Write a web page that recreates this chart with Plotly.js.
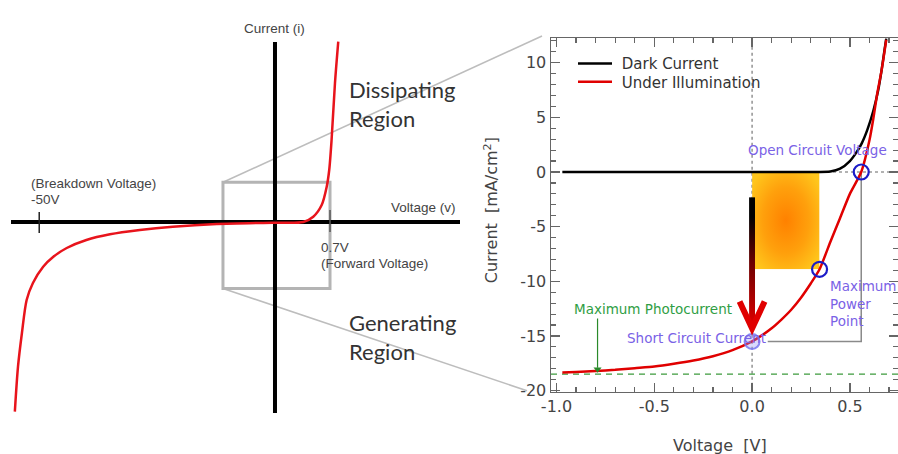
<!DOCTYPE html>
<html>
<head>
<meta charset="utf-8">
<script src="https://cdn.plot.ly/plotly-3.0.1.min.js"></script>
<style>
  html, body { margin: 0; padding: 0; background: #ffffff; }
  #chart { width: 898px; height: 454px; }
</style>
</head>
<body>
<div id="chart"></div>
<script>
// ---------- Left panel: schematic diode I-V curve (display units) ----------
const diodeV = [-3.31, -3.27, -3.22, -3.16, -3.08, -2.95, -2.82, -2.65, -2.40, -2.10, -1.72, -1.30, -0.74, -0.03, 0.36, 0.487, 0.594, 0.658, 0.69, 0.72, 0.763, 0.805];
const diodeI = [-18.97, -14.47, -11.1, -7.8, -6.1, -4.47, -3.47, -2.6, -1.8, -1.23, -0.8, -0.47, -0.2, -0.07, 0.0, 0.53, 1.7, 3.53, 5.2, 8.2, 13.87, 18.03];
const breakdownTick = -3.0;   // marks the -50 V breakdown
const forwardTick = 0.7;      // marks the 0.7 V forward voltage

// ---------- Right panel: solar cell J-V curves ----------
const darkV = [-0.97, -0.5, 0.0, 0.3, 0.4, 0.45, 0.5, 0.53, 0.56, 0.59, 0.62, 0.645, 0.662, 0.679, 0.686];
const darkI = [0, 0, 0, 0, 0.05, 0.3, 1.0, 1.7, 2.6, 3.9, 5.6, 7.5, 9.3, 11.4, 12.2];
const lightV = [-0.97, -0.9, -0.8, -0.7, -0.6, -0.5, -0.4, -0.3, -0.2, -0.1, 0.0, 0.05, 0.1, 0.15, 0.2, 0.25, 0.3, 0.345, 0.4, 0.45, 0.5, 0.558, 0.6, 0.62, 0.64, 0.662, 0.686];
const lightI = [-18.35, -18.3, -18.2, -18.1, -17.95, -17.8, -17.55, -17.25, -16.85, -16.3, -15.5, -14.95, -14.3, -13.5, -12.6, -11.5, -10.2, -8.9, -6.4, -4.2, -2.0, 0, 2.9, 4.9, 7.2, 9.3, 12.1];

const voc = 0.558;     // open circuit voltage [V]
const isc = -15.5;     // short circuit current [mA/cm2]
const vmp = 0.345;     // maximum power point voltage
const imp = -8.9;      // maximum power point current
const iph = -18.5;     // maximum photocurrent
const photoArrowV = -0.79;

const xTickVals = [-1.0, -0.5, 0.0, 0.5];
const xTickText = ['-1.0', '-0.5', '0.0', '0.5'];
const yTickVals = [-20, -15, -10, -5, 0, 5, 10];
const yTickText = ['-20', '-15', '-10', '-5', '0', '5', '10'];

// ---------- geometry ----------
const W = 898, H = 454;
const leftXDom = [0, 460 / W], leftYDom = [0, 1];
const leftXRange = [-3.499, 2.354], leftYRange = [-23.2, 22.2];
const rightXDom = [551 / W, 1], rightYDom = [62.3 / H, 416 / H];
const rightXRange = [-1.028, 0.746], rightYRange = [-20.1, 12.26];

const box = { x0: -0.662, x1: forwardTick, y0: -6.65, y1: 3.97 };

function toPaper(dom, rng, v) {
  return dom[0] + (v - rng[0]) / (rng[1] - rng[0]) * (dom[1] - dom[0]);
}
function svgUri(svg) { return 'data:image/svg+xml;base64,' + btoa(svg); }

const powerFill = svgUri(
  '<svg xmlns="http://www.w3.org/2000/svg" width="100" height="100" viewBox="0 0 100 100" preserveAspectRatio="none">' +
  '<defs><radialGradient id="g" cx="0.5" cy="0.5" r="0.62">' +
  '<stop offset="0" stop-color="#ff8100"/><stop offset="0.55" stop-color="#ffa00c"/><stop offset="1" stop-color="#ffc61c"/>' +
  '</radialGradient></defs><rect width="100" height="100" fill="url(#g)"/></svg>');

const shaftFill = svgUri(
  '<svg xmlns="http://www.w3.org/2000/svg" width="10" height="100" viewBox="0 0 10 100" preserveAspectRatio="none">' +
  '<defs><linearGradient id="s" x1="0" y1="0" x2="0" y2="1">' +
  '<stop offset="0" stop-color="#000000"/><stop offset="0.15" stop-color="#000000"/><stop offset="0.5" stop-color="#6a0000"/><stop offset="1" stop-color="#e00000"/>' +
  '</linearGradient></defs><rect width="10" height="100" fill="url(#s)"/></svg>');

const labelFont = { family: 'Liberation Sans, Arial, sans-serif', size: 13.5, color: '#444444' };
const regionFont = { family: 'Lato, Open Sans, sans-serif', size: 22, color: '#333333' };
const plotFont = { family: 'DejaVu Sans, Verdana, sans-serif', size: 16, color: '#444444' };
const noteFont = { family: 'DejaVu Sans, Verdana, sans-serif', size: 13.5, color: '#7a62e6' };
const legendFont = { family: 'DejaVu Sans, Verdana, sans-serif', size: 15, color: '#333333' };
const photoGreen = '#2a8a2a';

const traces = [
  { x: diodeV, y: diodeI, xaxis: 'x', yaxis: 'y', mode: 'lines', showlegend: false,
    line: { color: '#e8141c', width: 2.5, shape: 'spline', smoothing: 0.8 }, hoverinfo: 'skip' },
  { x: darkV, y: darkI, xaxis: 'x2', yaxis: 'y2', mode: 'lines', name: '\u00a0Dark Current', legend: 'legend',
    line: { color: '#000000', width: 2.5, shape: 'spline', smoothing: 0.6 } },
  { x: lightV, y: lightI, xaxis: 'x2', yaxis: 'y2', mode: 'lines', name: '\u00a0Under Illumination', legend: 'legend2',
    line: { color: '#e00000', width: 2.5, shape: 'spline', smoothing: 0.6 } },
  // maximum photocurrent arrow head
  { x: [photoArrowV], y: [iph + 0.45], xaxis: 'x2', yaxis: 'y2', mode: 'markers', showlegend: false,
    marker: { symbol: 'triangle-down', size: 7, color: photoGreen } },
  { x: [0], y: [isc], xaxis: 'x2', yaxis: 'y2', mode: 'markers', showlegend: false,
    marker: { symbol: 'circle', size: 15, color: 'rgba(150,150,250,0.35)', line: { color: 'rgba(120,120,240,0.85)', width: 2 } } },
  { x: [voc, vmp], y: [0, imp], xaxis: 'x2', yaxis: 'y2', mode: 'markers', showlegend: false,
    marker: { symbol: 'circle-open', size: 15, color: '#1c1cc8', line: { color: '#1c1cc8', width: 2.2 } } }
];

const shapes = [
  // zoom connectors from the left box to the right panel
  { type: 'line', xref: 'paper', yref: 'paper', layer: 'below',
    x0: toPaper(leftXDom, leftXRange, box.x0), y0: toPaper(leftYDom, leftYRange, box.y1),
    x1: rightXDom[0] - 9 / W, y1: rightYDom[1] + 2 / H,
    line: { color: '#bdbdbd', width: 1.6 } },
  { type: 'line', xref: 'paper', yref: 'paper', layer: 'below',
    x0: toPaper(leftXDom, leftXRange, box.x0), y0: toPaper(leftYDom, leftYRange, box.y0),
    x1: rightXDom[0] - 24 / W, y1: rightYDom[0] + 1 / H,
    line: { color: '#bdbdbd', width: 1.6 } },
  { type: 'rect', xref: 'x', yref: 'y', layer: 'below', x0: box.x0, x1: box.x1, y0: box.y0, y1: box.y1,
    line: { color: '#b4b4b4', width: 3 } },
  // left schematic axes
  { type: 'line', xref: 'x', yref: 'y', layer: 'below', x0: -3.359, x1: 2.354, y0: 0, y1: 0,
    line: { color: '#000000', width: 4 } },
  { type: 'line', xref: 'x', yref: 'y', layer: 'below', x0: 0, x1: 0, y0: -19.1, y1: 18.0,
    line: { color: '#000000', width: 4 } },
  { type: 'line', xref: 'x', yref: 'y', layer: 'below', x0: breakdownTick, x1: breakdownTick, y0: -1.1, y1: 1.0,
    line: { color: '#222222', width: 1.5 } },
  { type: 'line', xref: 'x', yref: 'y', layer: 'below', x0: forwardTick, x1: forwardTick, y0: -1.0, y1: 1.2,
    line: { color: '#555555', width: 1.5 } },
  // right panel guides
  { type: 'line', xref: 'x2', yref: 'y2 domain', layer: 'below', x0: 0, x1: 0, y0: 0, y1: 1,
    line: { color: '#777777', width: 1.2, dash: 'dot' } },
  { type: 'line', xref: 'x2 domain', yref: 'y2', layer: 'below', x0: 0, x1: 1, y0: 0, y1: 0,
    line: { color: '#999999', width: 1.4, dash: 'dot' } },
  { type: 'line', xref: 'x2 domain', yref: 'y2', layer: 'below', x0: 0, x1: 1, y0: iph, y1: iph,
    line: { color: '#3c9a3c', width: 1.2, dash: '6px,5px' } },
  { type: 'path', xref: 'x2', yref: 'y2', layer: 'below',
    path: 'M 0.08,' + isc + ' L ' + voc + ',' + isc + ' L ' + voc + ',0',
    line: { color: '#8a8a8a', width: 1.5 } },
  // maximum photocurrent arrow shaft
  { type: 'line', xref: 'x2', yref: 'y2', layer: 'above', x0: photoArrowV, x1: photoArrowV, y0: -13.4, y1: iph + 0.6,
    line: { color: photoGreen, width: 1.2 } },
  // red arrow head
  { type: 'path', xref: 'x2', yref: 'y2', layer: 'above',
    path: 'M -0.064,' + (isc + 3.65) + ' L 0,' + (isc + 1.2) + ' L 0.064,' + (isc + 3.65),
    line: { color: '#e00000', width: 6 } }
];

const images = [
  { source: powerFill, xref: 'x2', yref: 'y2', x: 0, y: 0, sizex: vmp, sizey: -imp,
    xanchor: 'left', yanchor: 'top', sizing: 'stretch', layer: 'below' },
  { source: shaftFill, xref: 'x2', yref: 'y2', x: 0, y: -2.3, sizex: 0.031, sizey: (isc + 1.3) * -1 - 2.3,
    xanchor: 'center', yanchor: 'top', sizing: 'stretch', layer: 'above' }
];

const annotations = [
  { xref: 'x', yref: 'y', x: 0, y: 19.4, text: 'Current (i)', showarrow: false, font: labelFont },
  { xref: 'x', yref: 'y', x: 2.33, y: 1.5, text: 'Voltage (v)', xanchor: 'right', showarrow: false, font: labelFont },
  { xref: 'x', yref: 'y', x: -3.13, y: 3.9, text: '(Breakdown Voltage)', xanchor: 'left', showarrow: false, font: labelFont },
  { xref: 'x', yref: 'y', x: -3.13, y: 2.3, text: '-50V', xanchor: 'left', showarrow: false, font: labelFont },
  { xref: 'x', yref: 'y', x: 0.56, y: -2.5, text: '0.7V', xanchor: 'left', showarrow: false, font: labelFont },
  { xref: 'x', yref: 'y', x: 0.56, y: -4.1, text: '(Forward Voltage)', xanchor: 'left', showarrow: false, font: labelFont },
  { xref: 'x', yref: 'y', x: 0.916, y: 11.85, text: 'Dissipating<br>Region', xanchor: 'left', align: 'left', showarrow: false, font: regionFont },
  { xref: 'x', yref: 'y', x: 0.916, y: -11.5, text: 'Generating<br>Region', xanchor: 'left', align: 'left', showarrow: false, font: regionFont },

  { xref: 'x2', yref: 'y2', x: 0.336, y: 2.0, text: 'Open Circuit Voltage', showarrow: false, font: noteFont },
  { xref: 'x2', yref: 'y2', x: 0.386, y: -12.0, text: 'Maximum<br>Power<br>Point', xanchor: 'left', align: 'left', showarrow: false, font: noteFont },
  { xref: 'x2', yref: 'y2', x: -0.285, y: -15.15, text: 'Short Circuit Current', showarrow: false, font: noteFont },
  { xref: 'x2', yref: 'y2', x: -0.507, y: -12.5, text: 'Maximum Photocurrent', showarrow: false,
    font: { family: noteFont.family, size: 13.5, color: '#2f9e44' } },

  { xref: 'x2 domain', yref: 'paper', x: 0.487, y: (H - 445) / H, yanchor: 'middle', text: 'Voltage\u00a0\u00a0[V]', showarrow: false, font: plotFont },
  { xref: 'paper', yref: 'y2', x: 491 / W, y: -3.5, xanchor: 'center', text: 'Current\u00a0\u00a0[mA/cm<sup>2</sup>]', textangle: -90, showarrow: false, font: plotFont }
];

const legendBase = {
  x: 573 / W, xanchor: 'left', yanchor: 'top',
  bgcolor: 'rgba(0,0,0,0)', borderwidth: 0, itemwidth: 34,
  font: legendFont
};

const layout = {
  width: W, height: H,
  margin: { l: 0, r: 0, t: 0, b: 0, pad: 0 },
  paper_bgcolor: '#ffffff',
  plot_bgcolor: 'rgba(0,0,0,0)',
  showlegend: true,
  legend: Object.assign({}, legendBase, { y: 1 - 47.3 / H }),
  legend2: Object.assign({}, legendBase, { y: 1 - 65.4 / H }),
  xaxis: { domain: leftXDom, range: leftXRange, visible: false, fixedrange: true },
  yaxis: { domain: leftYDom, range: leftYRange, visible: false, fixedrange: true },
  xaxis2: {
    domain: rightXDom, range: rightXRange, anchor: 'y2',
    tickmode: 'array', tickvals: xTickVals, ticktext: xTickText,
    ticks: 'inside', ticklen: 9, tickwidth: 1.3, tickcolor: '#666666',
    minor: { tickmode: 'linear', tick0: 0, dtick: 0.1, ticks: 'inside', ticklen: 5, tickwidth: 1.2, tickcolor: '#666666' },
    showline: true, linecolor: '#666666', linewidth: 1.5, mirror: 'allticks',
    showgrid: false, zeroline: false, tickfont: plotFont
  },
  yaxis2: {
    domain: rightYDom, range: rightYRange, anchor: 'x2',
    tickmode: 'array', tickvals: yTickVals, ticktext: yTickText,
    ticks: 'inside', ticklen: 9, tickwidth: 1.3, tickcolor: '#666666',
    minor: { tickmode: 'linear', tick0: 0, dtick: 1, ticks: 'inside', ticklen: 5, tickwidth: 1.2, tickcolor: '#666666' },
    showline: true, linecolor: '#666666', linewidth: 1.5, mirror: 'allticks',
    showgrid: false, zeroline: false, tickfont: plotFont
  },
  shapes: shapes,
  images: images,
  annotations: annotations
};

Plotly.newPlot('chart', traces, layout, { staticPlot: true, displayModeBar: false });
</script>
</body>
</html>
